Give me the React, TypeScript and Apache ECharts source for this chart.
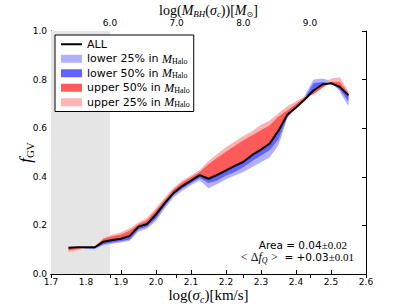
import { useEffect, useRef } from 'react';
import * as echarts from 'echarts';

// log(sigma_c) sample positions
const logSigma = [1.75, 1.775, 1.8, 1.825, 1.85, 1.875, 1.9, 1.925, 1.95, 1.975, 2.0, 2.025, 2.05, 2.075, 2.1, 2.125, 2.15, 2.175, 2.2, 2.225, 2.25, 2.275, 2.3, 2.325, 2.35, 2.375, 2.4, 2.425, 2.45, 2.475, 2.5, 2.525, 2.55];
// f_GV for the whole sample
const fAll = [0.108, 0.110, 0.110, 0.110, 0.133, 0.140, 0.145, 0.157, 0.195, 0.206, 0.245, 0.292, 0.333, 0.362, 0.384, 0.407, 0.392, 0.408, 0.426, 0.445, 0.462, 0.490, 0.512, 0.537, 0.590, 0.655, 0.685, 0.718, 0.755, 0.780, 0.785, 0.770, 0.735];
const upper50 = [0.097, 0.103, 0.110, 0.112, 0.145, 0.155, 0.163, 0.178, 0.205, 0.222, 0.262, 0.305, 0.348, 0.377, 0.398, 0.420, 0.452, 0.478, 0.503, 0.527, 0.550, 0.571, 0.592, 0.612, 0.648, 0.673, 0.700, 0.728, 0.740, 0.765, 0.790, 0.790, 0.745];
const upper25 = [0.088, 0.097, 0.107, 0.113, 0.150, 0.162, 0.172, 0.188, 0.212, 0.232, 0.272, 0.315, 0.355, 0.385, 0.405, 0.428, 0.465, 0.494, 0.522, 0.545, 0.568, 0.588, 0.614, 0.632, 0.662, 0.690, 0.710, 0.730, 0.745, 0.772, 0.805, 0.810, 0.750];
const lower50 = [0.105, 0.107, 0.106, 0.105, 0.122, 0.130, 0.136, 0.142, 0.183, 0.195, 0.228, 0.280, 0.325, 0.352, 0.375, 0.395, 0.375, 0.385, 0.405, 0.420, 0.440, 0.465, 0.488, 0.510, 0.555, 0.645, 0.685, 0.725, 0.785, 0.790, 0.785, 0.760, 0.710];
const lower25 = [0.100, 0.103, 0.103, 0.102, 0.118, 0.124, 0.130, 0.137, 0.175, 0.187, 0.218, 0.270, 0.315, 0.343, 0.365, 0.385, 0.353, 0.370, 0.390, 0.405, 0.420, 0.440, 0.460, 0.480, 0.530, 0.640, 0.690, 0.735, 0.800, 0.805, 0.795, 0.750, 0.690];

// axes
const X_MIN = 1.7;
const X_MAX = 2.6;
const X_STEP = 0.1;
const Y_MIN = 0;
const Y_MAX = 1;
const Y_STEP = 0.2;
// top axis: log M_BH at the ends of the log(sigma) range
const MBH_MIN = 5.115;
const MBH_MAX = 9.84;
// shaded (unresolved) region
const SHADE_END = 1.869;

const legendNames = ['ALL', 'lower 25%', 'lower 50%', 'upper 50%', 'upper 25%'];
const annotationArea = { value: '0.04', err: '0.02' };
const annotationDf = { value: '+0.03', err: '0.01' };

const COLORS: Record<string, string> = {
  'lower 25%': '#b0b0ff',
  'lower 50%': '#6262ff',
  'upper 50%': '#ff5a5a',
  'upper 25%': '#ffb3b3',
};

const SANS = 'DejaVu Sans';
const SERIF = 'Liberation Serif';

function band(name: string, values: number[], z: number) {
  const color = COLORS[name];
  return {
    type: 'custom',
    name,
    xAxisIndex: 0,
    yAxisIndex: 0,
    z,
    silent: true,
    itemStyle: { color },
    data: logSigma.map((x, i) => [x, values[i], fAll[i]]),
    encode: { x: 0, y: [1, 2] },
    renderItem: (params: any, api: any) => {
      if (params.dataIndex !== 0) return null;
      const pts: number[][] = [];
      for (let i = 0; i < logSigma.length; i++) pts.push(api.coord([logSigma[i], values[i]]));
      for (let i = logSigma.length - 1; i >= 0; i--) pts.push(api.coord([logSigma[i], fAll[i]]));
      return { type: 'polygon', shape: { points: pts }, style: { fill: color } };
    },
  };
}

export default function App() {
  const ref = useRef<HTMLDivElement>(null);
  useEffect(() => {
    if (!ref.current) return;
    const chart = echarts.init(ref.current, null, { renderer: 'svg' });
    const tickLabel = { color: '#000', fontFamily: SANS, fontSize: 9 };
    const axisLine = { show: true, lineStyle: { color: '#000', width: 1 } };
    const axisTick = { show: true, inside: true, length: 4, lineStyle: { color: '#000' } };
    const sub = { fontFamily: SERIF, fontSize: 10, verticalAlign: 'bottom', lineHeight: 18 };
    chart.setOption({
      animation: false,
      backgroundColor: '#fff',
      grid: { left: 51, right: 41, top: 31, bottom: 31, outerBoundsMode: 'none', containLabel: false },
      legend: {
        data: legendNames.map((n) =>
          n === 'ALL'
            ? { name: n, itemStyle: { color: 'transparent', borderWidth: 0, opacity: 0 } }
            : { name: n, icon: 'rect' }
        ),
        orient: 'vertical',
        left: 55,
        top: 35,
        itemWidth: 21,
        itemHeight: 8,
        itemGap: 2,
        padding: [3, 4, 3, 5],
        backgroundColor: '#fff',
        borderColor: '#000',
        borderWidth: 1,
        selectedMode: false,
        formatter: (n: string) => (n === 'ALL' ? 'ALL' : `${n} in {m|M}{s|Halo}`),
        textStyle: {
          color: '#000',
          fontFamily: SANS,
          fontSize: 11,
          lineHeight: 12.5,
          rich: {
            m: { fontFamily: SERIF, fontStyle: 'italic', fontSize: 12, lineHeight: 12.5 },
            s: { fontFamily: SERIF, fontSize: 8, lineHeight: 12.5, verticalAlign: 'bottom' },
          },
        },
      },
      xAxis: [
        {
          type: 'value',
          position: 'bottom',
          min: X_MIN,
          max: X_MAX,
          interval: X_STEP,
          axisLine,
          axisTick,
          splitLine: { show: false },
          axisLabel: { ...tickLabel, margin: 3, formatter: (v: number) => v.toFixed(1) },
          name: 'log({i|σ}{s|c})[km/s]',
          nameLocation: 'middle',
          nameGap: 12,
          nameMoveOverlap: false,
          nameTextStyle: {
            fontFamily: SERIF,
            fontSize: 15,
            color: '#000',
            lineHeight: 18,
            rich: {
              i: { fontFamily: SERIF, fontStyle: 'italic', fontSize: 15, lineHeight: 18 },
              s: { ...sub, fontStyle: 'italic' },
            },
          },
        },
        {
          type: 'value',
          position: 'top',
          min: MBH_MIN,
          max: MBH_MAX,
          axisLine,
          axisTick,
          splitLine: { show: false },
          axisLabel: {
            ...tickLabel,
            margin: 4,
            formatter: (v: number) => (Math.abs(v - Math.round(v)) < 1e-6 ? v.toFixed(1) : ''),
          },
          name: 'log({i|M}{si|BH}({i|σ}{si|c}))[{i|M}{s|⊙}]',
          nameLocation: 'middle',
          nameGap: 13,
          nameMoveOverlap: false,
          nameTextStyle: {
            fontFamily: SERIF,
            fontSize: 14,
            color: '#000',
            lineHeight: 16,
            rich: {
              i: { fontFamily: SERIF, fontStyle: 'italic', fontSize: 14, lineHeight: 16 },
              si: { fontFamily: SERIF, fontStyle: 'italic', fontSize: 9, lineHeight: 16, verticalAlign: 'bottom' },
              s: { fontFamily: 'DejaVu Sans', fontSize: 8, lineHeight: 16, verticalAlign: 'bottom' },
            },
          },
        },
      ],
      yAxis: [
        {
          type: 'value',
          position: 'left',
          min: Y_MIN,
          max: Y_MAX,
          interval: Y_STEP,
          axisLine,
          axisTick,
          splitLine: { show: false },
          axisLabel: { ...tickLabel, margin: 4, formatter: (v: number) => v.toFixed(1) },
          name: '{i|f}{s|GV}',
          nameLocation: 'middle',
          nameRotate: 90,
          nameGap: 16,
          nameMoveOverlap: false,
          nameTextStyle: {
            color: '#000',
            rich: {
              i: { fontFamily: SERIF, fontStyle: 'italic', fontSize: 17, lineHeight: 20 },
              s: { fontFamily: SERIF, fontSize: 11, lineHeight: 20, verticalAlign: 'bottom' },
            },
          },
        },
        {
          type: 'value',
          position: 'right',
          min: Y_MIN,
          max: Y_MAX,
          interval: Y_STEP,
          axisLine,
          axisTick,
          splitLine: { show: false },
          axisLabel: { show: false },
        },
      ],
      series: [
        band('lower 25%', lower25, 2),
        band('lower 50%', lower50, 3),
        band('upper 25%', upper25, 4),
        band('upper 50%', upper50, 5),
        {
          type: 'line',
          name: 'ALL',
          xAxisIndex: 0,
          yAxisIndex: 0,
          z: 6,
          symbol: 'none',
          silent: true,
          data: logSigma.map((x, i) => [x, fAll[i]]),
          lineStyle: { color: '#000', width: 2 },
          itemStyle: { color: '#000' },
          markArea: {
            silent: true,
            itemStyle: { color: '#e5e5e5' },
            data: [[{ xAxis: X_MIN }, { xAxis: SHADE_END }]],
          },
        },
      ],
      graphic: [
        {
          type: 'text',
          right: 60,
          top: 238,
          z: 10,
          style: {
            text: `Area = ${annotationArea.value}{pm|±${annotationArea.err}}`,
            fill: '#000',
            fontFamily: SANS,
            fontSize: 10.5,
            lineHeight: 14,
            rich: { pm: { fontFamily: SERIF, fontSize: 11, lineHeight: 14 } },
          },
        },
        {
          type: 'text',
          right: 53,
          top: 250,
          z: 10,
          style: {
            text: `{m|<} {m|Δ}{i|f}{s|Q} {m|>}  = ${annotationDf.value}{pm|±${annotationDf.err}}`,
            fill: '#000',
            fontFamily: SANS,
            fontSize: 10.5,
            lineHeight: 14,
            rich: {
              m: { fontFamily: SERIF, fontSize: 12, lineHeight: 14 },
              i: { fontFamily: SERIF, fontStyle: 'italic', fontSize: 12, lineHeight: 14 },
              s: { fontFamily: SERIF, fontStyle: 'italic', fontSize: 8, lineHeight: 14, verticalAlign: 'bottom' },
              pm: { fontFamily: SERIF, fontSize: 11, lineHeight: 14 },
            },
          },
        },
      ],
    });
    return () => chart.dispose();
  }, []);
  return <div ref={ref} style={{ width: 407, height: 305, position: 'absolute', left: 0, top: 0 }} />;
}
